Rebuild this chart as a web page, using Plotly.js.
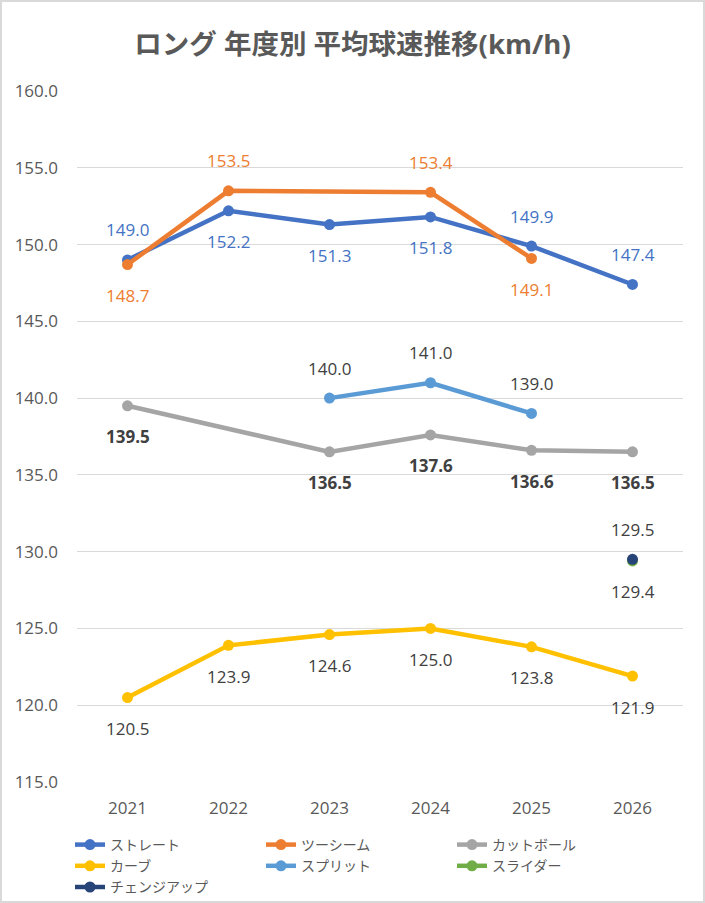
<!DOCTYPE html>
<html>
<head>
<meta charset="utf-8">
<script src="https://cdn.plot.ly/plotly-3.0.1.min.js"></script>
<style>
  body { margin: 0; background: #fff; }
  #wrap { position: relative; width: 705px; height: 903px; }
  #frame { position: absolute; left: 0; top: 0; width: 701px; height: 899px;
           border: 2px solid #d9d9d9; pointer-events: none; }
</style>
</head>
<body>
<div id="wrap">
  <div id="chart"></div>
  <div id="frame"></div>
</div>
<script>
// years on the x axis
const years = ['2021', '2022', '2023', '2024', '2025', '2026'];

// average speed per pitch type (km/h), null = no data that year
const straight  = [149.0, 152.2, 151.3, 151.8, 149.9, 147.4];
const twoSeam   = [148.7, 153.5, null, 153.4, 149.1, null];
const cutter    = [139.5, null, 136.5, 137.6, 136.6, 136.5];
const curve     = [120.5, 123.9, 124.6, 125.0, 123.8, 121.9];
const splitter  = [null, null, 140.0, 141.0, 139.0, null];
const slider    = [null, null, null, null, null, 129.4];
const changeup  = [null, null, null, null, null, 129.5];

const yTicks = [115, 120, 125, 130, 135, 140, 145, 150, 155, 160];

const FONT = "'Open Sans', 'Noto Sans CJK JP', sans-serif";

// series styling + where the value label sits (t = above, b = below)
const series = [
  { name: 'ストレート',   y: straight, color: '#4472C4', labelColor: '#4472C4', pos: ['t','b','b','b','t','t'] },
  { name: 'ツーシーム',   y: twoSeam,  color: '#ED7D31', labelColor: '#ED7D31', pos: ['b','t','t','t','b','b'] },
  { name: 'カットボール', y: cutter,   color: '#A5A5A5', labelColor: '#404040', pos: ['b','b','b','b','b','b'], bold: true },
  { name: 'カーブ',       y: curve,    color: '#FFC000', labelColor: '#404040', pos: ['b','b','b','b','b','b'] },
  { name: 'スプリット',   y: splitter, color: '#5B9BD5', labelColor: '#404040', pos: ['t','t','t','t','t','t'] },
  { name: 'スライダー',   y: slider,   color: '#70AD47', labelColor: '#404040', pos: ['b','b','b','b','b','b'] },
  { name: 'チェンジアップ', y: changeup, color: '#264478', labelColor: '#404040', pos: ['t','t','t','t','t','t'] }
];

const data = series.map(s => ({
  x: years,
  y: s.y,
  name: s.name,
  type: 'scatter',
  mode: 'lines+markers',
  connectgaps: true,
  line: { color: s.color, width: 4.5 },
  marker: { color: s.color, size: 11 },
  hoverinfo: 'skip'
}));

// value labels (category axis: annotation x is the category index)
const annotations = [];
series.forEach(s => {
  s.y.forEach((v, i) => {
    if (v === null) return;
    const txt = v.toFixed(1);
    annotations.push({
      x: i, y: v, xref: 'x', yref: 'y',
      text: s.bold ? '<b>' + txt + '</b>' : txt,
      showarrow: false,
      yshift: s.pos[i] === 't' ? 30 : -31,
      font: { family: FONT, size: 17, color: s.labelColor }
    });
  });
});

const layout = {
  width: 705,
  height: 903,
  margin: { l: 77, r: 22, t: 91, b: 121 },
  paper_bgcolor: '#ffffff',
  plot_bgcolor: '#ffffff',
  title: {
    text: 'ロング 年度別 平均球速推移(km/h)',
    xref: 'container', x: 0.5, xanchor: 'center',
    yref: 'container', y: 1 - 44 / 903, yanchor: 'middle',
    font: { family: FONT, size: 27.5, color: '#595959', weight: 'bold' }
  },
  xaxis: {
    type: 'category',
    range: [-0.5, 5.5],
    showgrid: false,
    zeroline: false,
    showline: false,
    ticks: '',
    ticklabelstandoff: 14,
    tickfont: { family: FONT, size: 17, color: '#595959' }
  },
  yaxis: {
    range: [115, 160],
    tickvals: yTicks,
    ticktext: yTicks.map(v => v.toFixed(1)),
    showgrid: true,
    gridcolor: '#d9d9d9',
    gridwidth: 1,
    zeroline: false,
    showline: false,
    ticks: '',
    ticklabelstandoff: 18,
    tickfont: { family: FONT, size: 17, color: '#595959' }
  },
  showlegend: true,
  legend: {
    orientation: 'h',
    xref: 'container', x: 70 / 705, xanchor: 'left',
    yref: 'container', y: 1 - 829 / 903, yanchor: 'top',
    entrywidth: 146,
    font: { family: FONT, size: 14, color: '#595959' },
    itemclick: false
  },
  annotations: annotations
};

Plotly.newPlot('chart', data, layout, { displayModeBar: false, staticPlot: true });
</script>
</body>
</html>
